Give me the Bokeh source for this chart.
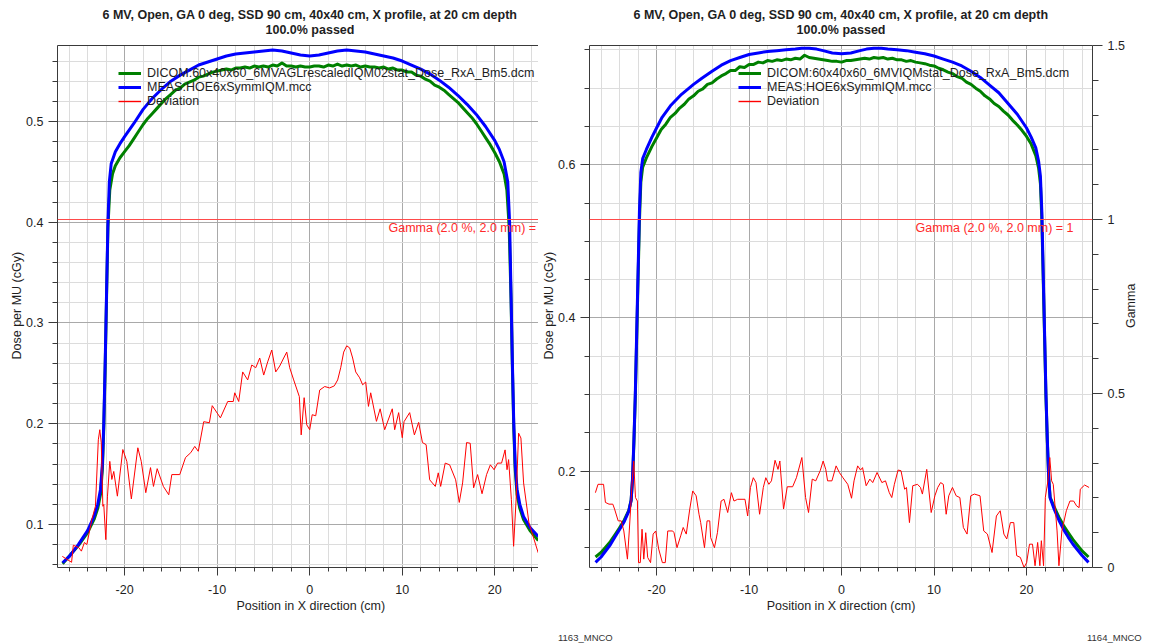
import math
from bokeh.plotting import figure
from bokeh.models import (Range1d, LinearAxis, FixedTicker, Span, Label,
                          Legend, LegendItem, Title, Div)
from bokeh.layouts import row, column
from bokeh.embed import file_html
from bokeh.resources import INLINE

# ---------------------------------------------------------------- texts
TITLE_1 = "6 MV, Open, GA 0 deg, SSD 90 cm, 40x40 cm, X profile, at 20 cm depth"
TITLE_2 = "100.0% passed"
X_LABEL = "Position in X direction (cm)"
Y_LABEL = "Dose per MU (cGy)"
G_LABEL = "Gamma"
GAMMA_TEXT = "Gamma (2.0 %, 2.0 mm) = 1"
GAMMA_CRITERION = 1.0
L_LEGEND = ["DICOM:60x40x60_6MVAGLrescaledIQM02stat_Dose_RxA_Bm5.dcm",
            "MEAS:HOE6xSymmIQM.mcc", "Deviation"]
R_LEGEND = ["DICOM:60x40x60_6MVIQMstat_Dose_RxA_Bm5.dcm",
            "MEAS:HOE6xSymmIQM.mcc", "Deviation"]
L_FOOT = "1163_MNCO"
R_FOOT = "1164_MNCO"

# ---------------------------------------------------------------- ticks
X_TICKS = [-20, -10, 0, 10, 20]
X_TICK_LABELS = ["-20", "-10", "0", "10", "20"]
X_MINOR = [-26, -24, -22, -20, -18, -16, -14, -12, -10, -8, -6, -4, -2, 0,
           2, 4, 6, 8, 10, 12, 14, 16, 18, 20, 22, 24, 26]
L_Y_TICKS = [0.1, 0.2, 0.3, 0.4, 0.5]
L_Y_TICK_LABELS = ["0.1", "0.2", "0.3", "0.4", "0.5"]
L_Y_MINOR = [0.06, 0.08, 0.1, 0.12, 0.14, 0.16, 0.18, 0.2, 0.22, 0.24, 0.26,
             0.28, 0.3, 0.32, 0.34, 0.36, 0.38, 0.4, 0.42, 0.44, 0.46, 0.48,
             0.5, 0.52, 0.54, 0.56]
R_Y_TICKS = [0.2, 0.4, 0.6]
R_Y_TICK_LABELS = ["0.2", "0.4", "0.6"]
R_Y_MINOR = [0.1, 0.15, 0.2, 0.25, 0.3, 0.35, 0.4, 0.45, 0.5, 0.55, 0.6,
             0.65, 0.7, 0.75]
G_TICKS = [0, 0.5, 1, 1.5]
G_TICK_LABELS = ["0", "0.5", "1", "1.5"]
G_MINOR = [0.1, 0.2, 0.3, 0.4, 0.5, 0.6, 0.7, 0.8, 0.9, 1.0, 1.1, 1.2, 1.3,
           1.4]
G_LABEL_AT = 0.688   # where along the gamma axis its title starts

# ---------------------------------------------------------------- left chart data
L_X_MEAS = [-26.7, -26.0, -25.0, -24.0, -23.3, -22.9, -22.6, -22.4, -22.25,
            -22.1, -21.95, -21.8, -21.65, -21.45, -21.0, -20.5, -20.0, -19.0,
            -18.0, -17.0, -16.0, -15.0, -14.0, -13.0, -12.0, -11.0, -10.0,
            -9.0, -8.0, -7.0, -6.0, -5.0, -4.0, -3.0, -2.0, -1.0, 0.0, 1.0,
            2.0, 3.0, 4.0, 5.0, 6.0, 7.0, 8.0, 9.0, 10.0, 11.0, 12.0, 13.0,
            14.0, 15.0, 16.0, 17.0, 18.0, 19.0, 20.0, 20.5, 21.0, 21.4, 21.6,
            21.75, 21.9, 22.05, 22.2, 22.4, 22.7, 23.1, 23.8, 24.7]
L_DOSE_MEAS = [0.062, 0.068, 0.080, 0.094, 0.108, 0.120, 0.135, 0.160, 0.200,
               0.260, 0.330, 0.400, 0.440, 0.458, 0.470, 0.478, 0.485, 0.498,
               0.512, 0.523, 0.532, 0.540, 0.546, 0.551, 0.556, 0.559, 0.562,
               0.565, 0.567, 0.568, 0.569, 0.570, 0.571, 0.570, 0.568, 0.566,
               0.565, 0.566, 0.568, 0.570, 0.571, 0.570, 0.569, 0.567, 0.565,
               0.563, 0.560, 0.556, 0.552, 0.547, 0.541, 0.534, 0.526, 0.517,
               0.507, 0.495, 0.481, 0.472, 0.460, 0.440, 0.400, 0.330, 0.260,
               0.200, 0.160, 0.135, 0.120, 0.108, 0.097, 0.088]

L_X_DICOM = [-26.7, -25.0, -24.0, -23.3, -22.9, -22.6, -22.4, -22.25, -22.1,
             -21.95, -21.8, -21.6, -21.3, -21.0, -20.5, -20.0, -19.5, -19.0,
             -18.5, -18.0, -17.5, -17.0, -16.5, -16.0, -15.5, -15.0, -14.5,
             -14.0, -13.5, -13.0, -12.5, -12.0, -11.5, -11.0, -10.5, -10.0,
             -9.5, -9.0, -8.5, -8.0, -7.5, -7.0, -6.5, -6.0, -5.5, -5.0, -4.5,
             -4.0, -3.5, -3.0, -2.5, -2.0, -1.5, -1.0, -0.5, 0.0, 0.5, 1.0,
             1.5, 2.0, 2.5, 3.0, 3.5, 4.0, 4.5, 5.0, 5.5, 6.0, 6.5, 7.0, 7.5,
             8.0, 8.5, 9.0, 9.5, 10.0, 10.5, 11.0, 11.5, 12.0, 12.5, 13.0,
             13.5, 14.0, 14.5, 15.0, 15.5, 16.0, 16.5, 17.0, 17.5, 18.0, 18.5,
             19.0, 19.5, 20.0, 20.5, 21.0, 21.3, 21.55, 21.75, 21.9, 22.05,
             22.2, 22.4, 22.7, 23.1, 23.8, 24.7]
L_DOSE_DICOM = [0.061, 0.079, 0.092, 0.105, 0.116, 0.130, 0.155, 0.195, 0.255,
                0.325, 0.395, 0.432, 0.448, 0.456, 0.464, 0.470, 0.476, 0.483,
                0.490, 0.497, 0.503, 0.508, 0.513, 0.518, 0.523, 0.527, 0.531,
                0.533, 0.537, 0.539, 0.541, 0.544, 0.545, 0.547, 0.549, 0.550,
                0.551, 0.552, 0.551, 0.553, 0.553, 0.554, 0.553, 0.555, 0.554,
                0.555, 0.554, 0.556, 0.555, 0.558, 0.555, 0.555, 0.554, 0.555,
                0.554, 0.554, 0.555, 0.555, 0.554, 0.556, 0.555, 0.557, 0.555,
                0.556, 0.555, 0.556, 0.554, 0.555, 0.554, 0.554, 0.553, 0.554,
                0.552, 0.553, 0.551, 0.551, 0.549, 0.549, 0.546, 0.545, 0.542,
                0.540, 0.536, 0.534, 0.531, 0.527, 0.523, 0.519, 0.514, 0.509,
                0.504, 0.498, 0.491, 0.484, 0.477, 0.469, 0.460, 0.448, 0.432,
                0.395, 0.325, 0.255, 0.195, 0.155, 0.130, 0.116, 0.105, 0.094,
                0.084]

L_X_DEV = [-26.73, -25.73, -25.54, -24.95, -24.67, -24.34, -24.08, -23.54,
           -23.15, -22.84, -22.68, -22.52, -22.35, -22.25, -22.03, -21.85,
           -21.60, -21.38, -21.17, -20.78, -20.19, -19.76, -19.27, -18.57,
           -18.20, -17.71, -17.20, -16.88, -16.48, -15.81, -15.23, -14.90,
           -14.04, -13.42, -12.85, -12.42, -12.04, -11.45, -10.84, -10.53,
           -9.65, -8.86, -8.26, -8.10, -7.67, -7.24, -6.70, -6.26, -5.83,
           -5.40, -4.97, -4.54, -4.10, -3.67, -3.24, -2.81, -2.48, -2.16,
           -1.73, -1.12, -0.92, -0.60, -0.32, 0.00, 0.27, 0.65, 1.08, 1.62,
           2.16, 2.66, 3.02, 3.35, 3.67, 4.00, 4.32, 4.64, 4.97, 5.40, 5.72,
           6.05, 6.35, 6.59, 7.21, 7.61, 8.10, 8.92, 9.18, 9.61, 10.00, 10.19,
           10.80, 11.31, 11.77, 12.18, 12.58, 12.96, 13.57, 13.89, 14.15,
           14.64, 15.12, 15.77, 16.16, 16.52, 16.95, 17.34, 17.71, 18.14,
           18.62, 19.11, 19.52, 19.92, 20.30, 20.73, 21.11, 21.32, 21.49,
           21.79, 22.03, 22.30, 22.57, 22.82, 23.11, 23.69, 24.69]
L_GAMMA_DEV = [0.032, 0.015, 0.064, 0.057, 0.047, 0.072, 0.066, 0.138, 0.176,
               0.367, 0.396, 0.358, 0.176, 0.181, 0.080, 0.205, 0.305, 0.253,
               0.276, 0.205, 0.339, 0.305, 0.197, 0.344, 0.305, 0.215, 0.287,
               0.233, 0.284, 0.233, 0.209, 0.267, 0.267, 0.316, 0.330, 0.348,
               0.334, 0.419, 0.416, 0.465, 0.430, 0.477, 0.477, 0.502, 0.477,
               0.562, 0.539, 0.582, 0.574, 0.602, 0.553, 0.591, 0.625, 0.562,
               0.579, 0.602, 0.619, 0.574, 0.539, 0.491, 0.381, 0.488, 0.410,
               0.396, 0.439, 0.436, 0.510, 0.520, 0.516, 0.522, 0.539, 0.574,
               0.619, 0.637, 0.631, 0.602, 0.562, 0.545, 0.525, 0.533, 0.463,
               0.502, 0.420, 0.456, 0.396, 0.456, 0.396, 0.445, 0.373, 0.419,
               0.445, 0.381, 0.417, 0.359, 0.353, 0.252, 0.233, 0.272, 0.233,
               0.300, 0.295, 0.252, 0.187, 0.243, 0.359, 0.357, 0.229, 0.267,
               0.212, 0.267, 0.295, 0.281, 0.300, 0.300, 0.338, 0.281, 0.310,
               0.195, 0.061, 0.195, 0.386, 0.372, 0.243, 0.128, 0.042]

# ---------------------------------------------------------------- right chart data
R_X_MEAS = [-26.6, -26.0, -25.0, -24.5, -24.0, -23.5, -23.0, -22.75, -22.6,
            -22.45, -22.3, -22.15, -22.0, -21.85, -21.7, -21.5, -21.1, -20.5,
            -20.0, -19.4, -18.5, -17.3, -16.0, -15.1, -14.0, -13.0, -12.0,
            -11.0, -10.0, -9.0, -8.0, -7.0, -6.0, -5.0, -4.3, -3.5, -2.7,
            -2.0, -1.0, 0.0, 1.0, 2.0, 2.7, 3.5, 4.3, 5.0, 6.0, 7.0, 8.0, 9.0,
            10.0, 11.0, 12.0, 13.0, 14.0, 15.0, 16.0, 17.0, 18.0, 19.0, 20.0,
            20.5, 21.0, 21.3, 21.5, 21.65, 21.8, 21.95, 22.1, 22.25, 22.4,
            22.55, 23.0, 23.5, 24.0, 24.5, 25.0, 26.0, 26.7]
R_DOSE_MEAS = [0.081, 0.088, 0.104, 0.114, 0.124, 0.134, 0.148, 0.162, 0.190,
               0.240, 0.300, 0.380, 0.460, 0.540, 0.590, 0.608, 0.620, 0.636,
               0.648, 0.662, 0.677, 0.692, 0.705, 0.713, 0.722, 0.730, 0.736,
               0.740, 0.744, 0.746, 0.748, 0.749, 0.750, 0.751, 0.752, 0.752,
               0.751, 0.749, 0.746, 0.745, 0.746, 0.749, 0.751, 0.752, 0.752,
               0.751, 0.750, 0.749, 0.747, 0.745, 0.742, 0.738, 0.734, 0.729,
               0.722, 0.714, 0.704, 0.694, 0.680, 0.666, 0.648, 0.636, 0.622,
               0.605, 0.585, 0.540, 0.460, 0.380, 0.300, 0.240, 0.190, 0.165,
               0.150, 0.136, 0.124, 0.114, 0.105, 0.090, 0.081]

R_X_DICOM = [-26.6, -26.0, -25.0, -24.5, -24.0, -23.5, -23.0, -22.75, -22.6,
             -22.45, -22.3, -22.15, -22.0, -21.85, -21.7, -21.5, -21.1, -20.5,
             -20.0, -19.5, -19.0, -18.5, -18.0, -17.5, -17.0, -16.5, -16.0,
             -15.5, -15.0, -14.5, -14.0, -13.5, -13.0, -12.5, -12.0, -11.5,
             -11.0, -10.5, -10.0, -9.5, -9.0, -8.5, -8.0, -7.5, -7.0, -6.5,
             -6.0, -5.5, -5.0, -4.5, -4.0, -3.5, -3.0, -2.5, -2.0, -1.5, -1.0,
             -0.5, 0.0, 0.5, 1.0, 1.5, 2.0, 2.5, 3.0, 3.5, 4.0, 4.5, 5.0, 5.5,
             6.0, 6.5, 7.0, 7.5, 8.0, 8.5, 9.0, 9.5, 10.0, 10.5, 11.0, 11.5,
             12.0, 12.5, 13.0, 13.5, 14.0, 14.5, 15.0, 15.5, 16.0, 16.5, 17.0,
             17.5, 18.0, 18.5, 19.0, 19.5, 20.0, 20.5, 21.0, 21.3, 21.5,
             21.65, 21.8, 21.95, 22.1, 22.25, 22.4, 22.55, 23.0, 23.5, 24.0,
             24.5, 25.0, 26.0, 26.7]
R_DOSE_DICOM = [0.088, 0.094, 0.108, 0.117, 0.126, 0.136, 0.149, 0.162, 0.188,
                0.236, 0.295, 0.372, 0.450, 0.527, 0.577, 0.597, 0.609, 0.624,
                0.635, 0.646, 0.653, 0.662, 0.667, 0.674, 0.679, 0.686, 0.690,
                0.696, 0.699, 0.705, 0.707, 0.712, 0.716, 0.719, 0.723, 0.723,
                0.728, 0.727, 0.731, 0.731, 0.734, 0.733, 0.736, 0.735, 0.737,
                0.736, 0.738, 0.737, 0.739, 0.738, 0.743, 0.740, 0.739, 0.738,
                0.737, 0.736, 0.735, 0.735, 0.734, 0.736, 0.736, 0.737, 0.738,
                0.739, 0.738, 0.740, 0.739, 0.740, 0.738, 0.739, 0.737, 0.737,
                0.735, 0.736, 0.734, 0.733, 0.732, 0.730, 0.729, 0.726, 0.724,
                0.721, 0.719, 0.715, 0.713, 0.708, 0.705, 0.700, 0.696, 0.690,
                0.686, 0.680, 0.676, 0.670, 0.665, 0.658, 0.652, 0.645, 0.637,
                0.627, 0.612, 0.596, 0.575, 0.530, 0.452, 0.374, 0.296, 0.238,
                0.190, 0.166, 0.153, 0.140, 0.129, 0.120, 0.111, 0.096, 0.088]

R_X_DEV = [-26.61, -26.33, -25.73, -25.53, -25.14, -24.73, -24.54, -24.15,
           -23.82, -23.54, -23.15, -22.95, -22.63, -22.47, -22.28, -22.07,
           -21.95, -21.76, -21.57, -21.38, -21.17, -20.96, -20.65, -20.37,
           -20.09, -19.77, -19.37, -19.06, -18.79, -18.26, -18.11, -17.79,
           -17.39, -17.12, -16.79, -16.41, -16.09, -15.72, -15.41, -15.23,
           -14.82, -14.54, -14.25, -14.15, -13.74, -13.42, -13.02, -12.71,
           -12.31, -11.91, -11.63, -11.23, -10.44, -10.15, -9.85, -9.54, -9.25,
           -8.86, -8.46, -8.19, -7.86, -7.58, -7.19, -6.87, -6.67, -6.27,
           -5.87, -5.29, -4.88, -4.29, -3.89, -3.57, -3.17, -2.79, -2.31,
           -1.99, -1.71, -1.51, -1.04, -0.59, -0.24, 0.15, 0.67, 1.08, 1.35,
           1.74, 2.05, 2.27, 2.66, 3.06, 3.37, 3.84, 4.36, 4.75, 5.16, 5.43,
           5.71, 6.11, 6.43, 6.82, 7.02, 7.34, 7.70, 8.21, 8.53, 8.74, 9.21,
           9.69, 10.09, 10.40, 10.71, 11.00, 11.31, 11.59, 11.99, 12.39, 12.79,
           13.17, 13.57, 13.97, 14.36, 14.97, 15.37, 15.77, 16.27, 16.74,
           17.15, 17.55, 17.86, 18.25, 18.62, 18.93, 19.33, 19.73, 20.01,
           20.32, 20.64, 20.92, 21.20, 21.44, 21.60, 21.84, 22.03, 22.31,
           22.51, 22.71, 22.89, 23.30, 23.50, 23.82, 24.30, 24.69, 25.09,
           25.41, 25.68, 25.81, 26.28, 26.76]
R_GAMMA_DEV = [0.215, 0.239, 0.239, 0.187, 0.182, 0.182, 0.168, 0.134, 0.134,
               0.105, 0.024, 0.105, 0.249, 0.306, 0.201, 0.191, 0.014, 0.014,
               0.110, 0.024, 0.100, 0.029, 0.014, 0.096, 0.105, 0.053, 0.014,
               0.014, 0.105, 0.105, 0.100, 0.057, 0.091, 0.115, 0.096, 0.168,
               0.220, 0.206, 0.153, 0.129, 0.057, 0.134, 0.134, 0.086, 0.057,
               0.100, 0.191, 0.196, 0.158, 0.215, 0.191, 0.196, 0.196, 0.148,
               0.230, 0.258, 0.244, 0.153, 0.230, 0.258, 0.239, 0.249, 0.308,
               0.282, 0.306, 0.168, 0.232, 0.232, 0.258, 0.316, 0.201, 0.158,
               0.254, 0.249, 0.278, 0.306, 0.282, 0.249, 0.249, 0.292, 0.273,
               0.258, 0.239, 0.199, 0.249, 0.292, 0.280, 0.287, 0.235, 0.254,
               0.244, 0.273, 0.244, 0.249, 0.215, 0.201, 0.239, 0.280, 0.278,
               0.225, 0.230, 0.129, 0.235, 0.239, 0.230, 0.211, 0.282, 0.158,
               0.206, 0.230, 0.244, 0.239, 0.153, 0.206, 0.230, 0.206, 0.201,
               0.115, 0.096, 0.206, 0.211, 0.206, 0.105, 0.096, 0.043, 0.148,
               0.163, 0.096, 0.082, 0.129, 0.129, 0.034, 0.029, 0.000, 0.014,
               0.067, 0.067, 0.005, 0.072, 0.005, 0.077, 0.005, 0.201, 0.249,
               0.316, 0.249, 0.239, 0.105, 0.005, 0.105, 0.163, 0.191, 0.191,
               0.177, 0.172, 0.225, 0.237, 0.230]

# ---------------------------------------------------------------- style
FONT = "Liberation Sans"
FS = "12.5px"
INK = "#1e1e1e"
AXIS = "#3a3a3a"
GRID_MAJOR = "#a9a9a9"
GRID_MINOR = "#dcdcdc"
GREEN = "#008000"
BLUE = "#0000ff"
RED = "#ff0000"
FRAME_H = 522


def style_axis(ax, ticks, labels, minor, tick_out, minor_out, standoff):
    ax.ticker = FixedTicker(ticks=ticks, minor_ticks=minor)
    ax.major_label_overrides = dict(zip(ticks, labels))
    ax.axis_line_color = AXIS
    ax.major_tick_line_color = AXIS
    ax.minor_tick_line_color = AXIS
    ax.major_tick_in = 0
    ax.minor_tick_in = 0
    ax.major_tick_out = tick_out
    ax.minor_tick_out = minor_out
    ax.major_label_standoff = standoff
    ax.major_label_text_font = FONT
    ax.major_label_text_font_size = FS
    ax.major_label_text_color = INK


def title(text, align, offset, standoff, bold=False):
    return Title(text=text, align=align, offset=offset, standoff=standoff,
                 text_font=FONT, text_font_size=FS,
                 text_font_style="bold" if bold else "normal",
                 text_color=INK)


def panel(frame_w, x_rng, y_rng, y_ticks, y_labels, y_minor, min_left,
          min_right, gamma_axis, legend_names, xd, yd, xm, ym, xg, gg,
          legend_x, gamma_x, title_pos):
    p = figure(frame_width=frame_w, frame_height=FRAME_H,
               min_border_left=min_left, min_border_right=min_right,
               min_border_top=45, min_border_bottom=55,
               x_range=Range1d(*x_rng), y_range=Range1d(*y_rng),
               output_backend="svg", toolbar_location=None, tools="")
    p.background_fill_color = "white"
    p.border_fill_color = "white"
    p.outline_line_color = None
    p.extra_y_ranges = {"gamma": Range1d(0, 1.5)}

    style_axis(p.xaxis[0], X_TICKS, X_TICK_LABELS, X_MINOR, 8, 4, 9)
    style_axis(p.yaxis[0], y_ticks, y_labels, y_minor, 9, 5, 5)

    for g, t, m in ((p.xgrid[0], X_TICKS, X_MINOR), (p.ygrid[0], y_ticks, y_minor)):
        g.ticker = FixedTicker(ticks=t, minor_ticks=m)
        g.grid_line_color = GRID_MAJOR
        g.minor_grid_line_color = GRID_MINOR

    # frame top edge (no ticks)
    top = LinearAxis(ticker=FixedTicker(ticks=[]), major_tick_out=0,
                     minor_tick_out=0, major_label_standoff=0,
                     axis_line_color=AXIS)
    p.add_layout(top, "above")

    if gamma_axis:
        gax = LinearAxis(y_range_name="gamma")
        style_axis(gax, G_TICKS, G_TICK_LABELS, G_MINOR, 10, 6, 5)
        p.add_layout(gax, "right")
        # axis title, reading bottom-to-top like the reference
        gl = LinearAxis(y_range_name="gamma",
                        ticker=FixedTicker(ticks=[G_LABEL_AT]),
                        major_label_overrides={G_LABEL_AT: G_LABEL},
                        major_label_orientation=math.pi / 2,
                        axis_line_color=None, major_tick_line_color=None,
                        minor_tick_line_color=None, major_tick_out=0,
                        minor_tick_out=0, major_label_standoff=4,
                        major_label_text_font=FONT,
                        major_label_text_font_size=FS,
                        major_label_text_color=INK)
        p.add_layout(gl, "right")

    rd = p.line(xd, yd, line_color=GREEN, line_width=3, line_join="round")
    rm = p.line(xm, ym, line_color=BLUE, line_width=3, line_join="round")
    rg = p.line(xg, gg, line_color=RED, line_width=1, line_join="round",
                y_range_name="gamma")
    # legend sample for the deviation trace (a single point draws nothing)
    rg_key = p.line(xg[:1], gg[:1], line_color=RED, line_width=1.4,
                    y_range_name="gamma")

    p.add_layout(Span(location=GAMMA_CRITERION, dimension="width",
                      y_range_name="gamma", line_color="#ff4a4a",
                      line_width=1))
    p.add_layout(Label(x=gamma_x, y=GAMMA_CRITERION, x_units="screen",
                       y_range_name="gamma", y_offset=-1, text=GAMMA_TEXT,
                       text_font=FONT, text_font_size=FS,
                       text_color="#ff2a2a", text_align="right",
                       text_baseline="top"))

    legend = Legend(items=[LegendItem(label=legend_names[0], renderers=[rd]),
                           LegendItem(label=legend_names[1], renderers=[rm]),
                           LegendItem(label=legend_names[2], renderers=[rg_key])],
                    location=(legend_x, FRAME_H - 63), orientation="vertical",
                    background_fill_alpha=0, border_line_color=None,
                    padding=0, margin=0, spacing=0, glyph_width=23,
                    glyph_height=14, label_height=14, label_standoff=6,
                    label_text_font=FONT, label_text_font_size=FS,
                    label_text_color=INK)
    p.add_layout(legend)

    (t2_align, t2_off), (t1_align, t1_off), (xl_align, xl_off) = title_pos
    p.add_layout(title(TITLE_2, t2_align, t2_off, 17, bold=True), "above")
    p.add_layout(title(TITLE_1, t1_align, t1_off, -18, bold=True), "above")
    p.add_layout(title(X_LABEL, xl_align, xl_off, 0), "below")
    p.add_layout(title(Y_LABEL, "left", 208, 0), "left")
    return p


left = panel(481, (-27.25, 24.72), (0.0573, 0.5754), L_Y_TICKS,
             L_Y_TICK_LABELS, L_Y_MINOR, 57, 0, False, L_LEGEND,
             L_X_DICOM, L_DOSE_DICOM, L_X_MEAS, L_DOSE_MEAS, L_X_DEV,
             L_GAMMA_DEV, 61, 489,
             (("left", 208), ("left", 45), ("left", 179)))

right = panel(503, (-27.25, 27.13), (0.0743, 0.7557), R_Y_TICKS,
              R_Y_TICK_LABELS, R_Y_MINOR, 51, 58, True, R_LEGEND,
              R_X_DICOM, R_DOSE_DICOM, R_X_MEAS, R_DOSE_MEAS, R_X_DEV,
              R_GAMMA_DEV, 149, 484,
              (("center", 0), ("center", 0), ("center", 0)))

foot = Div(text=(
    '<div style="position:relative;width:1150px;height:19px;'
    'font-family:\'Liberation Sans\';font-size:9.5px;color:#333333;">'
    '<span style="position:absolute;left:553px;top:4px;">' + L_FOOT + '</span>'
    '<span style="position:absolute;left:1082px;top:4px;">' + R_FOOT + '</span>'
    '</div>'), width=1150, height=19)

layout = column(row(left, right, spacing=0), foot, spacing=0)
open("out.html", "w").write(file_html(layout, INLINE))
